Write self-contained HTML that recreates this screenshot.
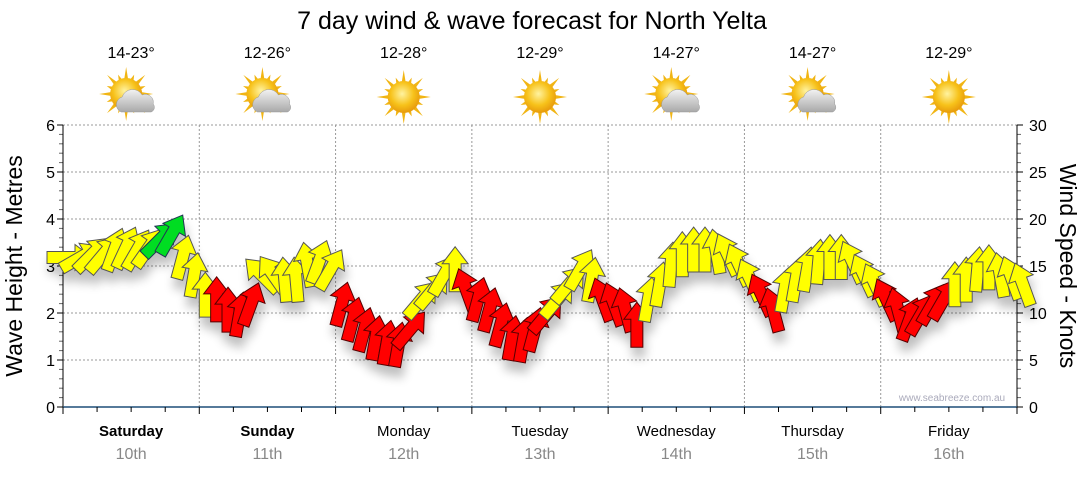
<!DOCTYPE html>
<html><head><meta charset="utf-8"><style>
body{margin:0;background:#fff;width:1080px;height:475px;overflow:hidden;font-family:"Liberation Sans",sans-serif}
svg text{font-family:"Liberation Sans","DejaVu Sans",sans-serif}
</style></head><body>
<svg id="chart" width="1080" height="475">
<defs>
<filter id="sh" x="-50%" y="-50%" width="200%" height="200%"><feGaussianBlur in="SourceAlpha" stdDeviation="5"/><feOffset dx="2" dy="10"/><feComponentTransfer><feFuncA type="linear" slope="0.25"/></feComponentTransfer><feMerge><feMergeNode/><feMergeNode in="SourceGraphic"/></feMerge></filter>
<radialGradient id="sun" cx="0.45" cy="0.4" r="0.6"><stop offset="0" stop-color="#fff3a0"/><stop offset="0.6" stop-color="#f7c21a"/><stop offset="1" stop-color="#e79a0c"/></radialGradient>
<linearGradient id="cloud" x1="0" y1="0" x2="0" y2="1"><stop offset="0" stop-color="#f2f2f2"/><stop offset="1" stop-color="#a9a9a9"/></linearGradient>
</defs>
<text x="532" y="29" font-size="25" text-anchor="middle">7 day wind &amp; wave forecast for North Yelta</text>
<g id="grid"></g><g id="icons"></g><g id="axes"></g><g id="arrows" filter="url(#sh)"></g>
<text x="952" y="401" font-size="10" fill="#aab" text-anchor="middle">www.seabreeze.com.au</text>
<text transform="translate(22,266) rotate(-90)" font-size="23" text-anchor="middle">Wave Height - Metres</text>
<text transform="translate(1060,266) rotate(90)" font-size="23" text-anchor="middle">Wind Speed - Knots</text>
</svg>
<script>
const days=["Saturday","Sunday","Monday","Tuesday","Wednesday","Thursday","Friday"];
const dates=["10th","11th","12th","13th","14th","15th","16th"];
const temps=["14-23°","12-26°","12-28°","12-29°","14-27°","14-27°","12-29°"];
const weather=["cloudy","cloudy","sun","sun","cloudy","cloudy","sun"];
const waveTicks=[0,1,2,3,4,5,6];
const knotTicks=[0,5,10,15,20,25,30];
const windKnots=[15.9,15.9,16.2,16.2,16.7,16.9,16.7,16.9,17.8,18.3,15.9,14.0,
11.9,11.4,10.3,9.8,10.9,14.0,14.0,13.5,13.5,15.1,15.4,14.6,
10.9,9.3,8.2,7.3,6.8,6.6,8.2,11.4,12.4,14.0,14.6,12.4,
11.4,10.3,8.7,7.3,7.1,8.2,9.8,11.4,13.0,14.6,13.5,11.4,
10.9,10.3,8.7,11.4,13.0,15.1,16.2,16.7,16.7,16.5,16.2,15.1,
13.5,11.9,10.3,12.4,13.5,14.6,15.4,15.9,15.9,15.4,14.0,13.0,
11.4,10.3,9.3,9.8,10.9,11.4,13.0,13.5,14.6,14.8,14.0,13.7,13.0];
const windDir=[90,60,45,40,20,25,30,35,45,30,15,10,
0,0,0,10,20,-45,-35,-5,-5,-10,20,30,
15,15,15,10,10,10,40,40,40,30,0,-20,
15,15,15,10,10,15,40,40,40,30,10,-20,
-20,-15,0,10,10,5,0,0,0,-10,-25,-25,
-25,-25,-15,10,10,10,5,0,0,-25,-25,-25,
-25,-15,20,30,30,30,0,0,5,0,-10,-20,-20];
const windCol=["y","y","y","y","y","y","y","y","g","g","y","y",
"y","r","r","r","r","y","y","y","y","y","y","y",
"r","r","r","r","r","r","r","y","y","y","y","r",
"r","r","r","r","r","r","r","y","y","y","y","r",
"r","r","r","y","y","y","y","y","y","y","y","y",
"y","r","r","y","y","y","y","y","y","y","y","y",
"r","r","r","r","r","r","y","y","y","y","y","y","y"];
const X0=63,X1=1017,Y0=407,Y1=125,DAYW=(X1-X0)/7;
const yW=v=>Y0-(v/6)*(Y0-Y1), yK=v=>Y0-(v/30)*(Y0-Y1);
const xT=i=>X0+i*DAYW/12;
const NS="http://www.w3.org/2000/svg";
function mk(t,a,p){const e=document.createElementNS(NS,t);for(const k in a)e.setAttribute(k,a[k]);p.appendChild(e);return e;}
const grid=document.getElementById('grid'),axes=document.getElementById('axes'),icons=document.getElementById('icons'),arrows=document.getElementById('arrows');
waveTicks.forEach(v=>{if(v>0){const l=mk('line',{x1:X0,x2:X1,y1:yW(v),y2:yW(v),stroke:'#999','stroke-dasharray':'2,2'},grid);

}
const t=mk('text',{x:X0-8,y:yW(v)+6,'font-size':16,'text-anchor':'end'},axes);t.textContent=v;

});
for(let i=0;i<=30;i++){const y=yK(i);mk('line',{x1:X0-(i%5?4:6),x2:X0,y1:y,y2:y,stroke:i%5?'#666':'#000'},axes);mk('line',{x1:X1,x2:X1+(i%5?4:6),y1:y,y2:y,stroke:i%5?'#666':'#000'},axes);}
knotTicks.forEach(v=>{const t=mk('text',{x:X1+12,y:yK(v)+6,'font-size':16},axes);t.textContent=v;

});
mk('line',{x1:X0,x2:X0,y1:Y1,y2:Y0,stroke:'#000'},axes);mk('line',{x1:X1,x2:X1,y1:Y1,y2:Y0,stroke:'#000'},axes);
mk('line',{x1:X0,x2:X1,y1:Y0,y2:Y0,stroke:'#1f4e79','stroke-width':1.5},axes);
for(let i=0;i<=28;i++){const x=X0+i*DAYW/4;mk('line',{x1:x,x2:x,y1:Y0,y2:Y0+(i%4?5:7),stroke:'#000'},axes);}
days.forEach((d,i)=>{const xs=X0+i*DAYW,xc=xs+DAYW/2;
if(i>0){const l=mk('line',{x1:xs,x2:xs,y1:Y1,y2:Y0,stroke:'#999','stroke-dasharray':'2,2'},grid);

}
const t=mk('text',{x:xc,y:436,'font-size':15,'text-anchor':'middle','font-weight':i<2?'bold':'normal'},axes);t.textContent=d;


const t2=mk('text',{x:xc,y:459,'font-size':16,'text-anchor':'middle',fill:'#888'},axes);t2.textContent=dates[i];


const t3=mk('text',{x:xc,y:58,'font-size':16,'text-anchor':'middle'},icons);t3.textContent=temps[i];


const g=mk('g',{transform:`translate(${xc},97)`},icons);


const sx=weather[i]=='sun'?0:-5,sy=weather[i]=='sun'?0:-3;
for(let k=0;k<16;k++){const a=k*Math.PI/8,r=k%2?21:27;mk('polygon',{points:`${sx+Math.cos(a-0.15)*14},${sy+Math.sin(a-0.15)*14} ${sx+Math.cos(a)*r},${sy+Math.sin(a)*r} ${sx+Math.cos(a+0.15)*14},${sy+Math.sin(a+0.15)*14}`,fill:'#f1b514'},g);}
mk('circle',{cx:sx,cy:sy,r:16,fill:'url(#sun)'},g);
if(weather[i]!='sun'){mk('path',{d:'M-10,15 a8,8 0 0 1 1,-15 a11,11 0 0 1 20,-2 a8,8 0 0 1 11,9 a5,5 0 0 1 -2,8 z',fill:'url(#cloud)',stroke:'#999','stroke-width':0.5},g);}
});
const cols={y:'#ffff00',r:'#ff0000',g:'#00dd22'};
const strokes={y:'#555',r:'#500',g:'#235'};
windKnots.forEach((k,i)=>{const p=mk('polygon',{points:'0,-23 13,-6 6,-6 6,22 -6,22 -6,-6 -13,-6',fill:cols[windCol[i]],stroke:strokes[windCol[i]],'stroke-width':1,transform:`translate(${xT(i)+6},${yK(k)}) rotate(${windDir[i]})`},arrows);

});
</script>
</body></html>
